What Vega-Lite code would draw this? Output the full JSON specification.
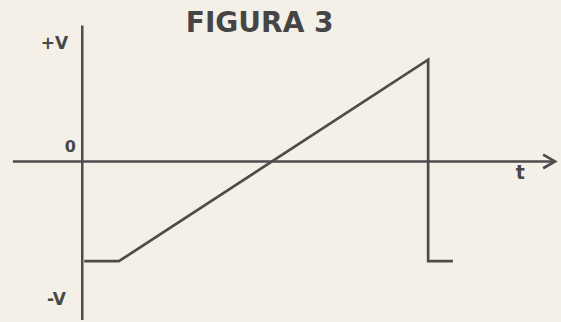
{
  "$schema": "https://vega.github.io/schema/vega-lite/v6.json",
  "width": 561,
  "height": 322,
  "autosize": {"type": "fit", "contains": "padding"},
  "padding": 0,
  "background": "#f4f0e7",
  "config": {"view": {"stroke": null}},
  "layer": [
    {
      "data": {"values": [
        {"x": 0, "x2": 0, "y": -1.62, "y2": 1.39},
        {"x": -7.0, "x2": 47.6, "y": 0, "y2": 0}
      ]},
      "mark": {"type": "rule", "color": "#4c4c4c", "strokeWidth": 2.5},
      "encoding": {
        "x": {"field": "x", "type": "quantitative", "scale": {"domain": [-8.3, 47.8], "nice": false, "zero": false}, "axis": null},
        "x2": {"field": "x2"},
        "y": {"field": "y", "type": "quantitative", "scale": {"domain": [-1.57, 1.65], "nice": false, "zero": false}, "axis": null},
        "y2": {"field": "y2"}
      }
    },
    {
      "data": {"values": [
        {"seg": "wave", "o": 1, "t": 0.2, "v": -1.02},
        {"seg": "wave", "o": 2, "t": 3.7, "v": -1.02},
        {"seg": "wave", "o": 3, "t": 34.9, "v": 1.04},
        {"seg": "wave", "o": 4, "t": 34.9, "v": -1.02},
        {"seg": "wave", "o": 5, "t": 37.4, "v": -1.02},
        {"seg": "arrow", "o": 1, "t": 46.5, "v": 0.07},
        {"seg": "arrow", "o": 2, "t": 47.7, "v": 0},
        {"seg": "arrow", "o": 3, "t": 46.5, "v": -0.07}
      ]},
      "mark": {"type": "line", "color": "#4c4c4c", "strokeWidth": 2.7, "strokeJoin": "miter"},
      "encoding": {
        "x": {"field": "t", "type": "quantitative", "scale": {"domain": [-8.3, 47.8], "nice": false, "zero": false}, "axis": null},
        "y": {"field": "v", "type": "quantitative", "scale": {"domain": [-1.57, 1.65], "nice": false, "zero": false}, "axis": null},
        "detail": {"field": "seg"},
        "order": {"field": "o"}
      }
    },
    {
      "data": {"values": [
        {"label": "+V", "t": -2.8, "v": 1.2, "size": 17},
        {"label": "-V", "t": -2.6, "v": -1.42, "size": 17},
        {"label": "0", "t": -1.2, "v": 0.15, "size": 16},
        {"label": "t", "t": 44.2, "v": -0.12, "size": 19}
      ]},
      "mark": {"type": "text", "color": "#484848", "font": "DejaVu Sans", "fontWeight": "bold", "align": "center", "baseline": "middle"},
      "encoding": {
        "x": {"field": "t", "type": "quantitative", "scale": {"domain": [-8.3, 47.8], "nice": false, "zero": false}, "axis": null},
        "y": {"field": "v", "type": "quantitative", "scale": {"domain": [-1.57, 1.65], "nice": false, "zero": false}, "axis": null},
        "text": {"field": "label"},
        "size": {"field": "size", "type": "quantitative", "scale": null, "legend": null}
      }
    },
    {
      "data": {"values": [{"label": "FIGURA 3", "t": 17.9, "v": 1.4}]},
      "mark": {"type": "text", "color": "#454545", "font": "DejaVu Sans", "fontWeight": "bold", "fontSize": 28, "align": "center", "baseline": "middle"},
      "encoding": {
        "x": {"field": "t", "type": "quantitative", "scale": {"domain": [-8.3, 47.8], "nice": false, "zero": false}, "axis": null},
        "y": {"field": "v", "type": "quantitative", "scale": {"domain": [-1.57, 1.65], "nice": false, "zero": false}, "axis": null},
        "text": {"field": "label"}
      }
    }
  ]
}
